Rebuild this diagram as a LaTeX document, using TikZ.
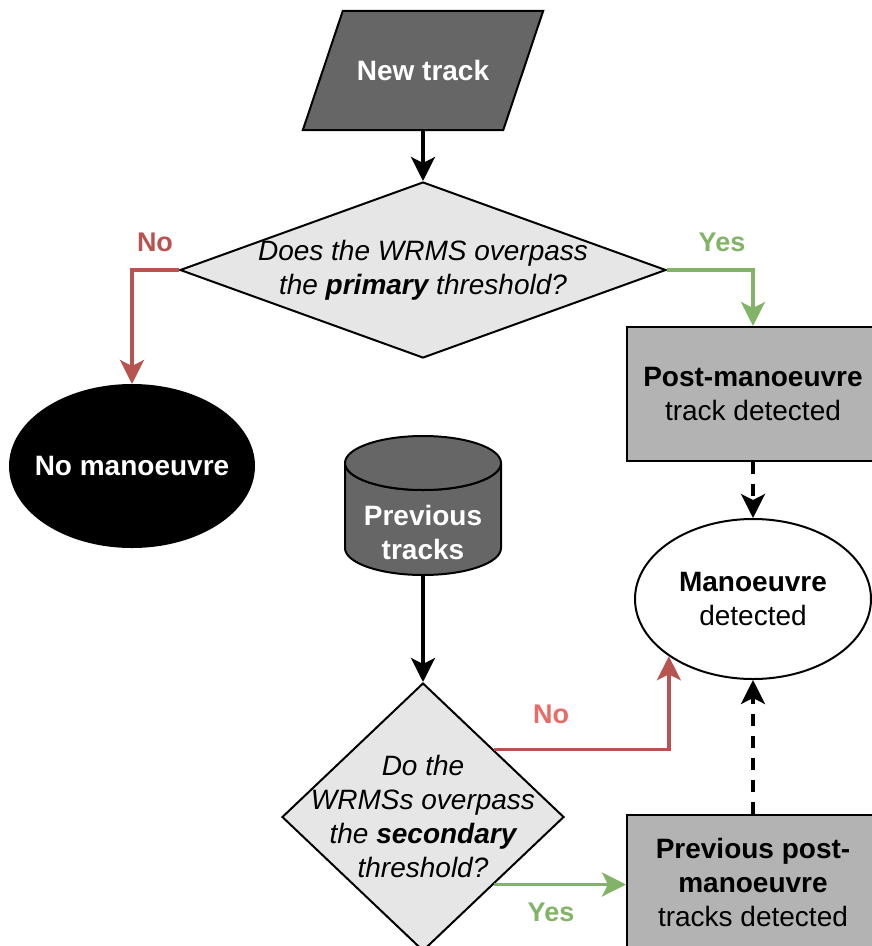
\documentclass[tikz,border=0pt]{standalone}
\usepackage{fontspec}
\setmainfont{Liberation Sans}
\usetikzlibrary{shapes.geometric,arrows.meta,calc}
\definecolor{dk}{HTML}{666666}
\definecolor{lg}{HTML}{E6E6E6}
\definecolor{bx}{HTML}{B3B3B3}
\definecolor{rd}{HTML}{B85450}
\definecolor{rdl}{HTML}{EA6B66}
\definecolor{gn}{HTML}{82B366}
\begin{document}
\begin{tikzpicture}[x=1pt,y=-1pt,
  txt/.style={font=\fontsize{28}{34}\selectfont, align=center, inner sep=0pt},
  lbl/.style={font=\bfseries\fontsize{27}{32}\selectfont, inner sep=0pt},
  shp/.style={draw=black, line width=2pt},
  boxst/.style={shp, fill=bx, rectangle, inner sep=0pt, align=center, font=\fontsize{28}{34}\selectfont},
  decst/.style={shp, fill=lg, diamond, inner sep=0pt},
  conn/.style={line width=3.5pt, -{Stealth[length=24pt,width=24pt,inset=6pt]}},
  dconn/.style={conn, dash pattern=on 12pt off 10pt}
]
\useasboundingbox (0,0) rectangle (872,946);

% New track (parallelogram)
\node[minimum width=240pt, minimum height=119pt, inner sep=0pt] (nt) at (423,70.5) {};
\draw[shp, fill=dk] ($(nt.north west)+(40,0)$) -- (nt.north east) -- ($(nt.south east)+(-40,0)$) -- (nt.south west) -- cycle;
\node[txt, text=white, font=\bfseries\fontsize{28}{34}\selectfont] at (nt) {New track};

% Decision 1
\node[decst, minimum width=486pt, minimum height=176pt] (d1) at (423,270) {};
\node[txt] (d1t) at (d1) {\itshape Does the WRMS overpass\\\itshape the \textbf{primary} threshold?};

% Post-manoeuvre box
\node[boxst, minimum width=252pt, minimum height=134pt] (b1) at (753,394) {\textbf{Post-manoeuvre}\\track detected};

% No manoeuvre ellipse
\node[ellipse, fill=black, draw=black, line width=2pt, minimum width=244pt, minimum height=162pt, inner sep=0pt] (nm) at (132,466) {};
\node[txt, text=white, font=\bfseries\fontsize{28}{34}\selectfont] at (nm) {No manoeuvre};

% Previous tracks cylinder
\node[minimum width=156pt, minimum height=139pt, inner sep=0pt] (cyl) at (423,505.5) {};
\filldraw[shp, fill=dk] (345,463) -- (345,548) arc[start angle=180, end angle=0, x radius=78, y radius=27]
   -- (501,463) arc[start angle=0, end angle=180, x radius=78, y radius=27] -- cycle;
\filldraw[shp, fill=dk] (423,463) ellipse[x radius=78, y radius=27];
\node[txt, text=white, font=\bfseries\fontsize{28}{34}\selectfont] at (423,532) {Previous\\tracks};

% Manoeuvre detected ellipse
\node[ellipse, shp, fill=white, minimum width=236pt, minimum height=160pt, inner sep=0pt] (m) at (753,599) {};
\node[txt] at (m) {\textbf{Manoeuvre}\\detected};

% Decision 2
\node[decst, minimum width=282pt, minimum height=268pt] (d2) at (423,817) {};
\node[txt] (d2t) at (423,816) {\itshape Do the\\\itshape WRMSs overpass\\\itshape the \textbf{secondary}\\\itshape threshold?};

% Previous post-manoeuvre box
\node[boxst, minimum width=252pt, minimum height=134pt] (b2) at (753,882) {\textbf{Previous post-}\\\textbf{manoeuvre}\\tracks detected};

% Connectors
\draw[conn] (nt.south) -- (d1.north);
\draw[conn, rd] (d1.west) -| (nm.north);
\draw[conn, gn] (d1.east) -| (b1.north);
\draw[dconn] (b1.south) -- (m.north);
\draw[conn] (cyl.south) -- (d2.north);
\draw[conn, rd] (d2.north east) -| (m.south west);
\draw[conn, gn] (d2.south east) -- (d2.south east -| b2.west);
\draw[dconn] (b2.north) -- (m.south);

% Labels
\node[lbl, text=rd] (lno1) at (155,242) {No};
\node[lbl, text=gn] (lyes1) at (722,242) {Yes};
\node[lbl, text=rdl] (lno2) at (551,714) {No};
\node[lbl, text=gn] (lyes2) at (551,912) {Yes};
\end{tikzpicture}
\end{document}
